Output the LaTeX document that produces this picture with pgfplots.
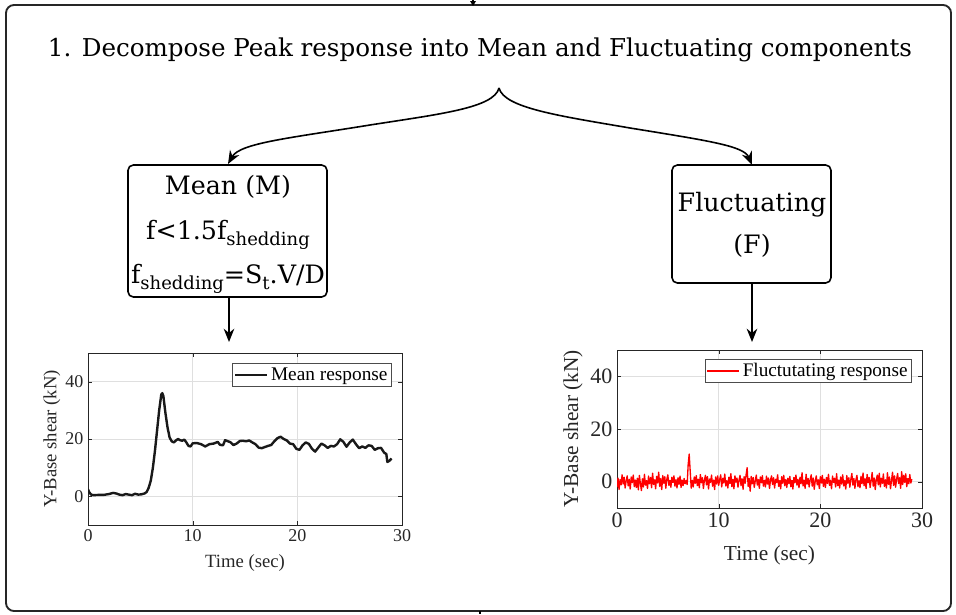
\documentclass[border=0pt]{standalone}
\usepackage{pgfplots}
\pgfplotsset{compat=1.18}
\usepackage{fontspec}
\setmainfont{Liberation Serif}
\newfontfamily\boxfont{DejaVu Serif}
\usetikzlibrary{arrows.meta}
\definecolor{axgray}{gray}{0.15}
\definecolor{fred}{RGB}{255,0,0}
\newcommand{\sub}[1]{\raisebox{-0.45ex}{\fontsize{13.5}{14}\selectfont #1}}
\begin{document}
\begin{tikzpicture}
\begin{scope}[x=0.75pt,y=-0.75pt]
\useasboundingbox (0,0) rectangle (956,614);
% outer box
\draw[line width=1.4pt,black!85,rounded corners=6pt] (6,5) rectangle (951,611);
\draw[line width=1pt] (473,0) -- (473,3);
\fill (470,1) -- (476,1) -- (473,6) -- cycle;
\draw[line width=1pt] (480,611) -- (480,614);
% title
\node[font=\boxfont\fontsize{19}{22}\selectfont,anchor=center] at (480,50)
  {\resizebox{648pt}{!}{1. Decompose Peak response into Mean and Fluctuating components}};
% brace arrows
\draw[line width=1.2pt,-{Stealth[length=10pt,width=8pt]}] (499,88) .. controls (494,108) and (440,114) .. (370,125) .. controls (290,138) and (240,143) .. (228,164);
\draw[line width=1.2pt,-{Stealth[length=10pt,width=8pt]}] (499,88) .. controls (504,108) and (560,116) .. (630,128) .. controls (710,141) and (744,146) .. (752,165);
% Mean box
\draw[line width=1.2pt,rounded corners=4pt] (128,165) rectangle (327,297);
\node[font=\boxfont\fontsize{19}{22}\selectfont] at (228,187) {Mean (M)};
\node[font=\boxfont\fontsize{19}{22}\selectfont] at (228,235) {f<1.5f\sub{shedding}};
\node[font=\boxfont\fontsize{19}{22}\selectfont] at (228,279) {f\sub{shedding}=S\sub{t}.V/D};
\draw[line width=1.2pt,-{Stealth[length=10pt,width=8pt]}] (229,297) -- (229,342);
% Fluctuating box
\draw[line width=1.2pt,rounded corners=4pt] (672,165) rectangle (831,283);
\node[font=\boxfont\fontsize{19}{22}\selectfont] at (752,205) {Fluctuating};
\node[font=\boxfont\fontsize{19}{22}\selectfont] at (752,246) {(F)};
\draw[line width=1.2pt,-{Stealth[length=10pt,width=8pt]}] (752,283) -- (752,342);
\end{scope}
% ---------- left axis ----------
\begin{axis}[
  at={(66pt,-393.75pt)}, anchor=south west,
  scale only axis, width=235.5pt, height=129pt,
  xmin=0, xmax=30, ymin=-10, ymax=50,
  xtick={0,10,20,30}, ytick={0,20,40},
  grid=major, major grid style={gray!25, line width=0.4pt},
  tick align=inside, major tick length=3pt,
  axis line style={axgray, line width=0.6pt},
  tick style={axgray},
  /pgf/number format/assume math mode=true,
  tick label style={font=\fontsize{13.5}{14}\selectfont, text=axgray},
  xlabel={Time (sec)}, ylabel={Y-Base shear (kN)},
  label style={font=\fontsize{14}{15}\selectfont, text=axgray},
  x label style={at={(axis description cs:0.5,-0.22)}, anchor=center},
  y label style={at={(axis description cs:-0.115,0.5)}, anchor=center},
  legend style={at={(axis description cs:0.968,0.942)}, anchor=north east,
    font=\fontsize{14.5}{15}\selectfont, draw=black!70, line width=0.6pt, inner sep=1pt},
  legend cell align=left,
  legend image code/.code={\draw[#1] (0pt,0pt) -- (24pt,0pt);},
]
\addplot[black!90, line width=1.8pt, line join=round] coordinates {
(0,2.5)(0.1,1.5)(0.3,0.6)(0.5,0.4)(1.0,0.5)(1.5,0.5)(2.0,0.8)(2.4,1.2)(2.7,1.0)(3.0,0.6)
(3.3,0.4)(3.6,0.8)(3.9,0.6)(4.2,0.4)(4.5,0.9)(4.8,0.6)(5.1,0.7)(5.4,1.0)(5.6,1.5)(5.8,3)
(6.0,5.5)(6.2,10)(6.4,16)(6.6,23)(6.8,30)(7.0,35.5)(7.1,36)(7.2,35)(7.4,29)(7.6,24)
(7.8,20.5)(8.0,19.2)(8.2,18.8)(8.4,19.5)(8.6,20)(8.8,19.6)(9.0,19.4)(9.2,19.8)(9.4,18.8)(9.6,17.6)
(9.8,17.4)(10.0,18.5)(10.4,18.6)(10.8,18.2)(11.2,17.4)(11.6,18.2)(12.0,18.4)(12.4,19.0)(12.6,18.0)(12.9,17.8)
(13.1,19.6)(13.3,19.3)(13.6,18.9)(13.9,17.9)(14.2,18.4)(14.5,19.3)(14.8,19.4)(15.1,19.2)(15.4,19.5)(15.7,18.8)
(16.0,18.2)(16.3,17.0)(16.6,16.8)(16.9,17.2)(17.2,17.6)(17.5,17.9)(17.8,19.2)(18.1,20.3)(18.4,20.8)(18.7,20.0)
(19.0,19.5)(19.3,18.4)(19.6,18.2)(19.9,16.6)(20.2,16.2)(20.5,17.8)(20.8,18.8)(21.1,18.3)(21.4,16.6)(21.7,15.6)
(22.0,17.0)(22.3,18.4)(22.6,17.8)(22.9,16.9)(23.2,17.6)(23.5,17.4)(23.8,18.2)(24.1,19.9)(24.4,19.0)(24.7,17.3)
(25.0,18.8)(25.3,19.8)(25.6,18.2)(25.9,16.8)(26.2,17.4)(26.5,16.9)(26.8,17.8)(27.1,17.6)(27.4,16.2)(27.7,16.8)
(28.0,16.9)(28.3,15.2)(28.5,14.8)(28.6,12.0)(28.8,12.4)(29.0,13.2)
};
\addlegendentry{Mean response}
\end{axis}
% ---------- right axis ----------
\pgfplotstableread{
t v
0.0 -2.1
0.1 1.4
0.2 -3.0
0.3 0.8
0.4 -1.2
0.5 2.6
0.6 -0.9
0.7 1.7
0.8 -2.4
0.9 0.3
1.0 2.2
1.1 -1.6
1.2 0.9
1.3 -2.8
1.4 1.8
1.5 -0.4
1.6 2.5
1.7 -1.9
1.8 0.6
1.9 -2.2
2.0 1.3
2.1 -3.1
2.2 2.4
2.3 -0.7
2.4 -3.4
2.5 1.1
2.6 -2.0
2.7 2.8
2.8 -1.3
2.9 0.4
3.0 -2.6
3.1 2.1
3.2 -0.8
3.3 1.6
3.4 -2.3
3.5 3.2
3.6 -1.1
3.7 0.7
3.8 -2.7
3.9 2.0
4.0 -0.5
4.1 3.6
4.2 -1.8
4.3 1.2
4.4 -3.0
4.5 2.3
4.6 -0.6
4.7 1.9
4.8 -2.5
4.9 0.9
5.0 2.6
5.1 -1.4
5.2 0.5
5.3 -2.1
5.4 1.7
5.5 -0.3
5.6 2.2
5.7 -1.7
5.8 0.8
5.9 -2.4
6.0 1.5
6.1 -1.0
6.2 2.1
6.3 -2.2
6.4 0.6
6.5 -1.5
6.6 1.2
6.7 -0.8
6.8 0.4
6.9 -1.1
7.0 6.5
7.1 10.5
7.2 4.0
7.3 -2.5
7.4 0.5
7.5 -2.0
7.6 1.8
7.7 -0.6
7.8 2.3
7.9 -1.5
8.0 0.9
8.1 -2.3
8.2 2.7
8.3 -0.4
8.4 1.5
8.5 -2.6
8.6 0.7
8.7 2.4
8.8 -1.2
8.9 1.9
9.0 -2.8
9.1 1.0
9.2 -0.3
9.3 2.5
9.4 -1.7
9.5 0.6
9.6 -3.0
9.7 1.8
9.8 -0.9
9.9 2.2
10.0 -1.4
10.1 0.8
10.2 2.6
10.3 -2.0
10.4 1.3
10.5 -0.5
10.6 2.9
10.7 -1.6
10.8 0.4
10.9 -2.4
11.0 1.7
11.1 -0.7
11.2 3.0
11.3 -1.9
11.4 0.9
11.5 -2.7
11.6 2.2
11.7 -0.2
11.8 1.4
11.9 -2.1
12.0 0.6
12.1 2.4
12.2 -1.5
12.3 1.1
12.4 -2.9
12.5 1.9
12.6 -0.6
12.7 2.7
12.8 5.3
12.9 -1.8
13.0 1.2
13.1 -3.6
13.2 2.0
13.3 -0.8
13.4 1.6
13.5 -2.2
13.6 0.3
13.7 2.5
13.8 -1.3
13.9 0.8
14.0 -2.5
14.1 1.8
14.2 -0.4
14.3 2.3
14.4 -1.7
14.5 0.5
14.6 -2.0
14.7 2.1
14.8 -0.9
14.9 1.4
15.0 -2.6
15.1 0.7
15.2 2.2
15.3 -1.1
15.4 1.5
15.5 -2.4
15.6 0.9
15.7 -0.3
15.8 2.6
15.9 -1.8
16.0 0.4
16.1 -2.7
16.2 1.9
16.3 -0.6
16.4 2.4
16.5 -1.5
16.6 0.8
16.7 -2.2
16.8 1.3
16.9 -0.7
17.0 2.0
17.1 -1.9
17.2 0.5
17.3 -2.8
17.4 1.6
17.5 -0.4
17.6 2.5
17.7 -1.3
17.8 0.9
17.9 -2.3
18.0 1.7
18.1 -0.8
18.2 3.4
18.3 -1.6
18.4 0.6
18.5 -2.5
18.6 2.8
18.7 -0.9
18.8 1.2
18.9 -2.0
19.0 0.8
19.1 2.6
19.2 -1.7
19.3 1.4
19.4 -2.9
19.5 0.3
19.6 2.2
19.7 -1.2
19.8 0.7
19.9 -2.6
20.0 1.9
20.1 -0.5
20.2 2.4
20.3 -1.8
20.4 0.9
20.5 -2.2
20.6 1.6
20.7 -0.7
20.8 2.8
20.9 -1.4
21.0 0.5
21.1 -2.7
21.2 2.1
21.3 -0.3
21.4 1.3
21.5 -2.0
21.6 3.0
21.7 -1.5
21.8 0.6
21.9 -2.4
22.0 1.8
22.1 -0.9
22.2 2.6
22.3 -1.6
22.4 0.4
22.5 -2.8
22.6 2.3
22.7 -0.6
22.8 1.5
22.9 -2.1
23.0 0.9
23.1 3.1
23.2 -1.3
23.3 1.2
23.4 -2.5
23.5 0.7
23.6 2.4
23.7 -1.9
23.8 0.3
23.9 -2.3
24.0 2.0
24.1 -0.8
24.2 3.3
24.3 -1.5
24.4 1.1
24.5 -2.6
24.6 2.7
24.7 -0.4
24.8 1.6
24.9 -2.2
25.0 0.6
25.1 3.5
25.2 -1.7
25.3 1.4
25.4 -3.0
25.5 0.8
25.6 2.5
25.7 -1.2
25.8 3.2
25.9 -2.0
26.0 1.3
26.1 -0.6
26.2 2.9
26.3 -1.8
26.4 0.7
26.5 -2.4
26.6 3.4
26.7 -1.0
26.8 1.8
26.9 -2.7
27.0 0.5
27.1 3.6
27.2 -1.4
27.3 2.2
27.4 -2.1
27.5 0.9
27.6 3.1
27.7 -0.7
27.8 1.5
27.9 -2.5
28.0 3.8
28.1 -1.1
28.2 2.4
28.3 -0.3
28.4 3.0
28.5 -1.9
28.6 1.2
28.7 -0.8
28.8 2.7
28.9 -0.5
29.0 1.0
}\fluct
\begin{axis}[
  at={(462.75pt,-381pt)}, anchor=south west,
  scale only axis, width=228.75pt, height=118.5pt,
  xmin=0, xmax=30, ymin=-10, ymax=50,
  xtick={0,10,20,30}, ytick={0,20,40},
  grid=major, major grid style={gray!25, line width=0.4pt},
  tick align=inside, major tick length=3pt,
  axis line style={axgray, line width=0.6pt},
  tick style={axgray},
  /pgf/number format/assume math mode=true,
  tick label style={font=\fontsize{16.5}{17}\selectfont, text=axgray},
  xlabel={Time (sec)}, ylabel={Y-Base shear (kN)},
  label style={font=\fontsize{16}{17}\selectfont, text=axgray},
  x label style={at={(axis description cs:0.5,-0.30)}, anchor=center},
  y label style={at={(axis description cs:-0.144,0.5)}, anchor=center},
  legend style={at={(axis description cs:0.967,0.943)}, anchor=north east,
    font=\fontsize{14.4}{15}\selectfont, draw=black!70, line width=0.6pt, inner sep=1pt},
  legend cell align=left,
  legend image code/.code={\draw[#1] (0pt,0pt) -- (24pt,0pt);},
]
\addplot[draw=fred, color=fred, line width=1pt, line join=round] table[x=t,y=v] {\fluct};
\addlegendentry{Fluctutating response}
\end{axis}
\end{tikzpicture}
\end{document}
